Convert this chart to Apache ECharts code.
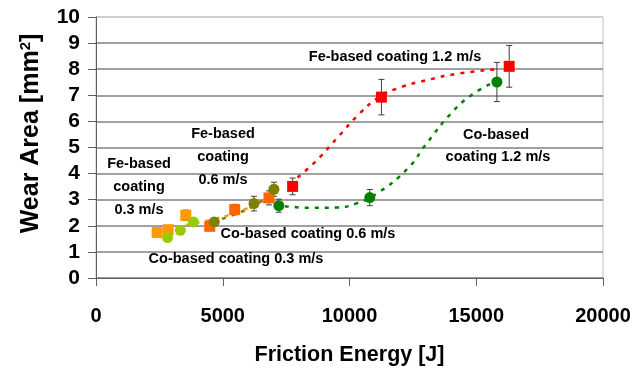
<!DOCTYPE html>
<html><head><meta charset="utf-8">
<script src="https://cdn.jsdelivr.net/npm/echarts@6/dist/echarts.min.js"></script>
<style>html,body{margin:0;padding:0;background:#fff}#c{width:635px;height:376px}</style>
</head><body><div id="c"></div>
<script>
// x ticks / y ticks
const xMin = 0, xMax = 20000, xStep = 5000;
const yMin = 0, yMax = 10, yStep = 1;

// series: [friction energy J, wear area mm2, error]
const fe03 = [[2413,1.74,0.08],[2846,1.85,0.10],[3543,2.40,0.20]];
const co03 = [[2823,1.55,0.08],[3327,1.83,0.12],[3839,2.15,0.15]];
const fe06 = [[4488,1.98,0.10],[5472,2.62,0.20],[6823,3.07,0.27]];
const co06 = [[4665,2.15,0.12],[6232,2.85,0.28],[7020,3.40,0.27]];
const fe12 = [[7756,3.51,0.32],[11260,6.93,0.68],[16300,8.11,0.80]];
const co12 = [[7213,2.77,0.25],[10800,3.08,0.31],[15815,7.51,0.75]];

// dashed trend curves
const trendFeLow = [[2400,1.74],[3500,2.02],[4500,2.22],[5500,2.5],[6800,3.0]];
const trendCoLow = [[4600,2.15],[5500,2.45],[6200,2.75],[7000,3.25]];
const trendFe12 = [[7950,3.85],[8700,4.5],[9500,5.35],[10400,6.3],[11200,6.95],[12000,7.3],[13000,7.57],[14300,7.83],[15800,8.0]];
const trendCo12 = [[7450,2.75],[8500,2.69],[9500,2.7],[10250,2.85],[11100,3.25],[12300,4.2],[13000,5.1],[14000,6.3],[14800,7.0],[15600,7.45]];

const labels = [
  {t:'Fe-based coating 1.2 m/s', x:395, y:57},
  {t:'Fe-based\ncoating\n0.6 m/s', x:223, y:157},
  {t:'Fe-based\ncoating\n0.3 m/s', x:139, y:187},
  {t:'Co-based coating 0.6 m/s', x:308, y:234},
  {t:'Co-based coating 0.3 m/s', x:236, y:259},
  {t:'Co-based', x:496, y:135},
  {t:'coating 1.2 m/s', x:498, y:157}
];

const chart = echarts.init(document.getElementById('c'), null, {renderer:'canvas'});

function errBar(data){
  return {
    type:'custom', silent:true, z:2,
    data: data.map(d => [d[0], d[1]-d[2], d[1]+d[2]]),
    encode:{x:0, y:[1,2]},
    renderItem:(params, api) => {
      const x = api.value(0);
      const lo = api.coord([x, api.value(1)]);
      const hi = api.coord([x, api.value(2)]);
      const w = 3;
      const st = {stroke:'#404040', lineWidth:1};
      return {type:'group', children:[
        {type:'line', shape:{x1:lo[0], y1:lo[1], x2:hi[0], y2:hi[1]}, style:st},
        {type:'line', shape:{x1:lo[0]-w, y1:lo[1], x2:lo[0]+w, y2:lo[1]}, style:st},
        {type:'line', shape:{x1:hi[0]-w, y1:hi[1], x2:hi[0]+w, y2:hi[1]}, style:st}
      ]};
    }
  };
}
function pts(data, symbol, color){
  return {type:'scatter', z:4, symbol, symbolSize:11, itemStyle:{color, opacity:1},
    data: data.map(d => [d[0], d[1]])};
}
function trend(data, color){
  return {type:'line', z:3, smooth:true, showSymbol:false, symbol:'none', data,
    lineStyle:{color, width:2.5, type:[4,6]}};
}

const gridColors = [];
for (let v = yMin; v <= yMax; v += yStep) gridColors.push(v === yMax ? '#c8c8c8' : '#808080');

chart.setOption({
  animation:false,
  backgroundColor:'#fff',
  grid:{left:96, right:32, top:17, bottom:98, show:true, borderColor:'#c0c0c0', borderWidth:1, backgroundColor:'transparent'},
  xAxis:{type:'value', min:xMin, max:xMax, interval:xStep,
    name:'Friction Energy [J]', nameLocation:'middle', nameGap:66,
    nameTextStyle:{fontFamily:'Liberation Sans, Arial', fontWeight:'bold', fontSize:21.5, color:'#000'},
    axisLine:{show:true, onZero:false, lineStyle:{color:'#606060', width:1}},
    axisTick:{show:true, inside:false, length:8, lineStyle:{color:'#606060'}},
    axisLabel:{margin:28, fontFamily:'Liberation Sans, Arial', fontWeight:'bold', fontSize:20, color:'#000',
      formatter:(v) => String(v)},
    splitLine:{show:false}},
  yAxis:{type:'value', min:yMin, max:yMax, interval:yStep,
    name:'Wear Area [mm{sup|2}]', nameLocation:'middle', nameGap:51, nameRotate:90,
    nameTextStyle:{fontFamily:'Liberation Sans, Arial', fontWeight:'bold', fontSize:25, color:'#000',
      padding:[0,0,0,28],
      rich:{sup:{fontFamily:'Liberation Sans, Arial', fontWeight:'bold', fontSize:15, color:'#000', verticalAlign:'top', padding:[0,0,12,0]}}},
    axisLine:{show:true, lineStyle:{color:'#606060', width:1}},
    axisTick:{show:true, inside:false, length:8, lineStyle:{color:'#606060'}},
    axisLabel:{margin:16, fontFamily:'Liberation Sans, Arial', fontWeight:'bold', fontSize:21, color:'#000'},
    splitLine:{show:true, lineStyle:{color:gridColors, width:1.5}}},
  graphic: labels.map(l => ({type:'text', x:l.x, y:l.y, z:10,
    style:{text:l.t, fill:'#000', font:'bold 14.5px "Liberation Sans", Arial', textAlign:'center', textVerticalAlign:'middle', lineHeight:23}})),
  series:[
    trend(trendFeLow, '#FF9900'),
    trend(trendCoLow, '#808000'),
    trend(trendFe12, '#FF0000'),
    trend(trendCo12, '#008000'),
    errBar(fe03), errBar(co03), errBar(fe06), errBar(co06), errBar(fe12), errBar(co12),
    pts(fe03, 'rect', '#FF9900'),
    pts(co03, 'circle', '#99CC00'),
    pts(fe06, 'rect', '#FF6600'),
    pts(co06, 'circle', '#808000'),
    pts(fe12, 'rect', '#FF0000'),
    pts(co12, 'circle', '#008000')
  ]
});
</script></body></html>
